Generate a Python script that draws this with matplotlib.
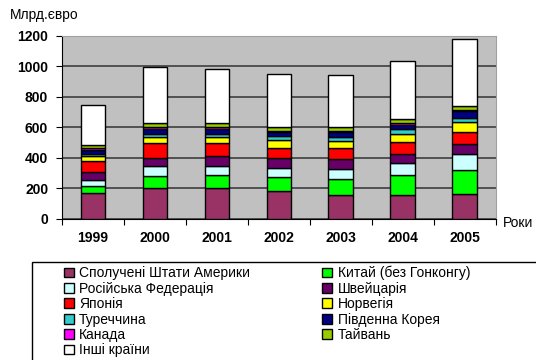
import matplotlib.pyplot as plt
import matplotlib.patches as mpatches
import numpy as np

plt.rcParams["font.family"] = ["Liberation Sans", "DejaVu Sans"]

years = ["1999", "2000", "2001", "2002", "2003", "2004", "2005"]

# млрд євро за країнами, знизу вгору в стовпчику
usa = [168, 205, 205, 181, 155, 155, 164]
china = [50, 74, 81, 92, 105, 131, 159]
russia = [37, 66, 59, 61, 69, 82, 104]
switzerland = [51, 56, 65, 63, 64, 59, 62]
japan = [74, 98, 87, 68, 70, 75, 78]
norway = [30, 40, 38, 50, 45, 52, 66]
turkey = [17, 20, 23, 25, 29, 35, 30]
korea = [26, 28, 29, 28, 29, 26, 46]
canada = [10, 15, 13, 10, 12, 13, 5]
taiwan = [24, 28, 26, 24, 24, 28, 24]
others = [259, 363, 354, 345, 338, 376, 438]

series = [
    ("Сполучені Штати Америки", usa, "#993366"),
    ("Китай (без Гонконгу)", china, "#00FF00"),
    ("Російська Федерація", russia, "#CCFFFF"),
    ("Швейцарія", switzerland, "#660066"),
    ("Японія", japan, "#FF0000"),
    ("Норвегія", norway, "#FFFF00"),
    ("Туреччина", turkey, "#33CCCC"),
    ("Південна Корея", korea, "#000080"),
    ("Канада", canada, "#FF00FF"),
    ("Тайвань", taiwan, "#99CC00"),
    ("Інші країни", others, "#FFFFFF"),
]

fig = plt.figure(figsize=(5.36, 3.6), dpi=100)
ax = fig.add_axes([0.1157, 0.392, 0.8093, 0.509])
ax.set_facecolor("#C0C0C0")

x = np.arange(len(years))
bottom = np.zeros(len(years))
handles = []
for name, vals, color in series:
    bars = ax.bar(x, vals, 0.4, bottom=bottom, color=color,
                  edgecolor="black", linewidth=1.0, label=name, zorder=3)
    bottom += np.array(vals)
    handles.append(bars)

ax.set_xlim(-0.5, len(years) - 0.5)
ax.set_ylim(0, 1200)
ax.set_yticks(range(0, 1201, 200))
ax.yaxis.grid(True, color="#505050", linewidth=1.4, zorder=1)
ax.set_axisbelow(True)

# риски між категоріями, підписи років по центру
ax.set_xticks(np.arange(-0.5, len(years), 1.0))
ax.set_xticklabels([])
ax.set_xticks(x, minor=True)
ax.set_xticklabels(years, minor=True, fontweight="bold", fontsize=10)
ax.tick_params(axis="x", which="minor", length=0, pad=9)
ax.tick_params(axis="x", which="major", length=4, direction="out")
ax.tick_params(axis="y", length=4, direction="out", pad=6, labelsize=10)
for lbl in ax.get_yticklabels():
    lbl.set_fontweight("bold")

for side in ("top", "right"):
    ax.spines[side].set_color("#A0A0A0")
for side in ("left", "bottom"):
    ax.spines[side].set_color("black")

fig.text(10 / 536, 1 - 15 / 360, "Млрд.євро", fontsize=10, va="center")
fig.text(503 / 536, 1 - 223 / 360, "Роки", fontsize=10, va="center")

# легенда: два стовпці, заповнення по рядках
left_col = handles[0::2]
right_col = handles[1::2]
order = left_col + right_col
labels = [h.get_label() for h in order]
leg = fig.legend(order, labels, ncol=2, loc="upper left",
                 bbox_to_anchor=(57 / 536, 1 - 259 / 360), frameon=False,
                 fontsize=10, handlelength=0.7, handleheight=0.7,
                 handletextpad=0.4, labelspacing=0.1, columnspacing=5.2,
                 borderpad=0.0)

fig.patches.append(mpatches.Rectangle((32 / 536, -0.05), 1.0, 0.05 + (360 - 262) / 360,
                                      transform=fig.transFigure, fill=False,
                                      edgecolor="black", linewidth=1.0))

fig.savefig("out.png", dpi=100)
